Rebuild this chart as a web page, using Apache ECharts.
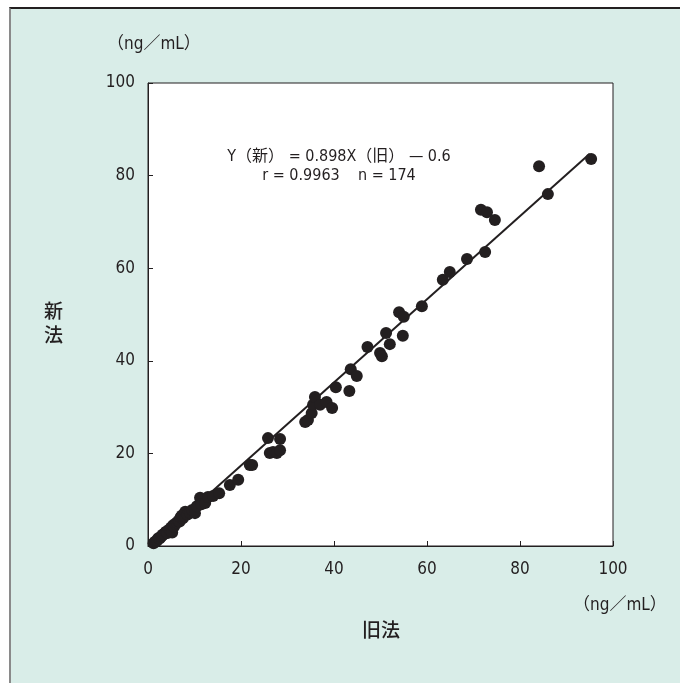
<!DOCTYPE html>
<html>
<head>
<meta charset="utf-8">
<script src="https://cdn.jsdelivr.net/npm/echarts@6/dist/echarts.min.js"></script>
<style>
html,body{margin:0;padding:0;background:#fff;}
#bg{position:absolute;left:9px;top:7px;width:671px;height:676px;background:#d9ede8;border-top:2px solid #231f20;border-left:2px solid #8a8a8a;box-sizing:border-box;}
#chart{position:absolute;left:0;top:0;width:680px;height:683px;}
</style>
</head>
<body>
<div id="bg"></div>
<div id="chart"></div>
<script>
// ---- data ----
const xTicks = [0, 20, 40, 60, 80, 100];
const yTicks = [0, 20, 40, 60, 80, 100];
const unitLabel = '（ng／mL）';
const xName = '旧法';
const yName = '新法';
const equationLine1 = 'Y（新） = 0.898X（旧） — 0.6';
const equationLine2 = 'r = 0.9963    n = 174';
// old method (x) and new method (y) measured values
const oldMethod = [
  1.2,1.5,1.8,2.0,2.2,2.5,2.8,3.0,3.2,3.5,3.8,4.0,4.2,4.5,4.8,5.0,5.2,5.4,5.6,5.9,
  6.2,6.5,6.8,7.0,7.5,7.3,8.0,8.5,9.0,9.5,10.1,10.5,11.2,11.5,12.3,12.9,14.0,15.3,17.6,19.4,
  21.9,22.4,25.8,26.2,26.9,27.7,28.4,28.4,
  33.8,34.4,35.2,35.5,35.9,37.0,38.4,39.6,40.4,43.3,43.6,44.9,47.2,49.9,50.3,51.2,52.0,54.0,55.0,54.8,
  58.9,63.4,64.9,68.6,72.5,71.6,72.9,74.6,84.1,86.0,95.3
];
const newMethod = [
  0.6,0.9,1.0,1.3,1.7,1.6,2.0,2.2,2.5,2.6,3.0,3.1,2.8,3.5,3.6,4.0,2.9,4.5,4.2,4.8,
  5.0,5.4,5.3,6.2,6.0,6.6,7.4,6.8,7.2,7.8,7.1,8.6,10.4,9.0,9.3,10.6,10.8,11.4,13.2,14.3,
  17.5,17.5,23.3,20.1,20.3,20.1,20.7,23.1,
  26.8,27.2,28.7,30.5,32.2,30.5,31.1,29.8,34.3,33.5,38.2,36.7,43.0,41.7,41.0,46.0,43.6,50.5,49.5,45.4,
  51.8,57.5,59.2,62.0,63.5,72.6,72.1,70.4,82.0,76.0,83.6
];
// regression line endpoints (Y = 0.898X - 0.6)
const fitX = [1.5, 95.0];
const fitY = [0.75, 84.7];

const points = oldMethod.map((x, i) => [x, newMethod[i]]);
const fitLine = fitX.map((x, i) => [x, fitY[i]]);

const chart = echarts.init(document.getElementById('chart'), null, {renderer: 'canvas'});
const fontFam = '"Liberation Sans Narrow", "DejaVu Sans Condensed", "Noto Sans CJK JP", sans-serif';
const cjkFam = '"Noto Sans CJK JP", sans-serif';
const labelColor = '#231f20';
chart.setOption({
  backgroundColor: 'transparent',
  animation: false,
  grid: {left: 148, top: 83, right: 67, bottom: 137, show: true, backgroundColor: '#ffffff', borderColor: '#231f20', borderWidth: 1},
  xAxis: {
    type: 'value', min: xTicks[0], max: xTicks[xTicks.length - 1], interval: 20,
    axisLine: {show: true, onZero: false, lineStyle: {color: '#231f20', width: 1}},
    axisTick: {show: true, inside: true, length: 5, lineStyle: {color: '#231f20'}},
    axisLabel: {color: labelColor, fontSize: 17, fontFamily: fontFam, margin: 15},
    splitLine: {show: false}
  },
  yAxis: {
    type: 'value', min: yTicks[0], max: yTicks[yTicks.length - 1], interval: 20,
    axisLine: {show: true, onZero: false, lineStyle: {color: '#231f20', width: 1}},
    axisTick: {show: true, inside: true, length: 5, lineStyle: {color: '#231f20'}},
    axisLabel: {color: labelColor, fontSize: 17, fontFamily: fontFam, margin: 13},
    splitLine: {show: false}
  },
  series: [
    {
      type: 'line', data: fitLine, symbol: 'none', silent: true,
      lineStyle: {color: '#231f20', width: 2}, z: 2
    },
    {
      type: 'scatter', data: points, symbol: 'circle', symbolSize: 12,
      itemStyle: {color: '#231f20', opacity: 1}, z: 3
    }
  ],
  graphic: [
    {type: 'text', left: 107, top: 36, style: {text: unitLabel, font: '17px ' + fontFam, fill: labelColor}},
    {type: 'text', left: 573, top: 597, style: {text: unitLabel, font: '17px ' + fontFam, fill: labelColor}},
    {type: 'text', left: 362, top: 620, style: {text: xName, font: '500 19px ' + cjkFam, fill: labelColor}},
    {type: 'text', left: 44, top: 299, style: {text: yName.split('').join('\n'), lineHeight: 24, font: '500 19px ' + cjkFam, fill: labelColor}},
    {type: 'text', x: 339, y: 157, style: {text: equationLine1, font: '16px ' + fontFam, fill: labelColor, align: 'center', verticalAlign: 'middle'}},
    {type: 'text', x: 339, y: 176, style: {text: equationLine2, font: '16px ' + fontFam, fill: labelColor, align: 'center', verticalAlign: 'middle'}}
  ]
});
</script>
</body>
</html>
